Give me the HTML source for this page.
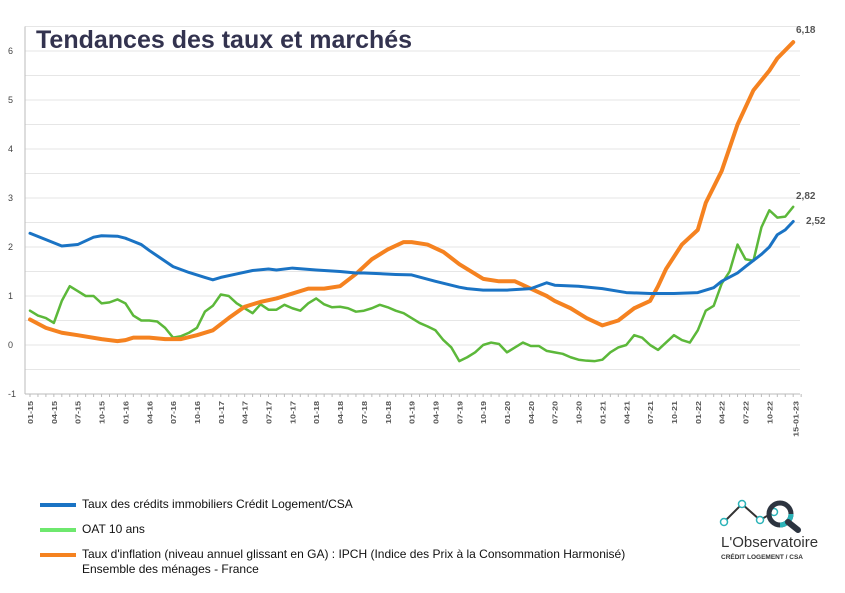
<!DOCTYPE html>
<html><head><meta charset="utf-8"><style>
body{margin:0;background:#fff;font-family:"Liberation Sans",sans-serif}
.leg{position:absolute;left:82px;font-size:12px;color:#111;line-height:15px}
.sw{position:absolute;left:40px;width:36px;height:4px}
</style></head><body>
<div style="position:relative;width:845px;height:593px;overflow:hidden">
<svg id="c" width="845" height="593" style="position:absolute;left:0;top:0"></svg>
<div style="position:absolute;left:36px;top:26px;font-size:25px;font-weight:bold;color:#33334f">Tendances des taux et marchés</div>
<div class="sw" style="top:503px;background:#1a73c4"></div>
<div class="leg" style="top:497px">Taux des crédits immobiliers Crédit Logement/CSA</div>
<div class="sw" style="top:528px;background:#6ee86e"></div>
<div class="leg" style="top:522px">OAT 10 ans</div>
<div class="sw" style="top:553px;background:#f58220"></div>
<div class="leg" style="top:547px">Taux d'inflation (niveau annuel glissant en GA) : IPCH (Indice des Prix à la Consommation Harmonisé)<br>Ensemble des ménages - France</div>
<svg width="100" height="75" style="position:absolute;left:718px;top:490px">
<polyline points="6,32 24,14 42,30 56,22" fill="none" stroke="#333" stroke-width="2"/>
<circle cx="6" cy="32" r="3.5" fill="#fff" stroke="#2bb3b8" stroke-width="1.5"/><circle cx="24" cy="14" r="3.5" fill="#fff" stroke="#2bb3b8" stroke-width="1.5"/><circle cx="42" cy="30" r="3.5" fill="#fff" stroke="#2bb3b8" stroke-width="1.5"/><circle cx="56" cy="22" r="3.5" fill="#fff" stroke="#2bb3b8" stroke-width="1.5"/>
<circle cx="62" cy="24" r="11" fill="none" stroke="#2c3440" stroke-width="5"/><path d="M62 35 A11 11 0 0 0 73 24" fill="none" stroke="#2bb3b8" stroke-width="5"/>
<line x1="70" y1="32" x2="80" y2="40" stroke="#2c3440" stroke-width="6" stroke-linecap="round"/>
<text x="3" y="57" font-size="15" fill="#333" font-family="Liberation Sans">L'Observatoire</text>
<text x="3" y="69" font-size="6.5" font-weight="bold" fill="#333" font-family="Liberation Sans">CRÉDIT LOGEMENT / CSA</text>
</svg>
</div>
<script>
const blueM=[0,2,4,6,8,9,11,12,14,15,18,20,22,23,24,26,28,30,31,33,36,39,41,42,46,48,51,54,55,57,60,63,65,66,69,72,75,78,81,84,86,87,89,90,92,93,94,95,96];
const blueV=[2.28,2.15,2.02,2.05,2.2,2.23,2.22,2.18,2.05,1.93,1.6,1.48,1.38,1.33,1.38,1.45,1.52,1.55,1.53,1.57,1.53,1.5,1.47,1.47,1.44,1.43,1.3,1.18,1.15,1.12,1.12,1.15,1.27,1.22,1.2,1.15,1.07,1.05,1.05,1.07,1.17,1.3,1.47,1.6,1.85,2.0,2.25,2.35,2.52];
const orM=[0,2,4,6,9,11,12,13,15,17,19,21,23,25,27,29,31,33,35,37,39,41,43,45,47,48,50,52,54,57,59,61,63,65,66,68,70,72,74,76,78,79,80,82,84,85,87,89,91,93,94,96];
const orV=[0.52,0.35,0.25,0.2,0.12,0.08,0.1,0.15,0.15,0.12,0.12,0.2,0.3,0.55,0.78,0.88,0.95,1.05,1.15,1.15,1.2,1.45,1.75,1.95,2.1,2.1,2.05,1.9,1.65,1.35,1.3,1.3,1.15,1.0,0.9,0.75,0.55,0.4,0.5,0.75,0.9,1.2,1.55,2.05,2.35,2.9,3.55,4.5,5.2,5.6,5.85,6.18];
const grV=[0.7,0.6,0.55,0.45,0.9,1.2,1.1,1.0,1.0,0.85,0.87,0.93,0.85,0.6,0.5,0.5,0.48,0.35,0.15,0.18,0.25,0.35,0.68,0.8,1.03,1.0,0.85,0.75,0.65,0.83,0.72,0.72,0.82,0.75,0.7,0.85,0.95,0.83,0.77,0.78,0.75,0.68,0.7,0.75,0.82,0.77,0.7,0.65,0.55,0.45,0.38,0.3,0.1,-0.05,-0.33,-0.25,-0.15,0,0.05,0.02,-0.15,-0.05,0.05,-0.02,-0.02,-0.12,-0.15,-0.18,-0.25,-0.3,-0.32,-0.33,-0.3,-0.15,-0.05,0,0.2,0.15,0,-0.1,0.05,0.2,0.1,0.05,0.3,0.7,0.8,1.25,1.5,2.05,1.75,1.72,2.4,2.75,2.6,2.62,2.82];
const yTicks=[6,5,4,3,2,1,0,-1];
const xLabels=[];const yrs=[15,16,17,18,19,20,21,22];
yrs.forEach(y=>["01","04","07","10"].forEach(m=>xLabels.push(m+"-"+y)));xLabels.push("15-01-23");
const ns="http://www.w3.org/2000/svg",svg=document.getElementById("c");
const X=i=>30+i*7.95, Y=v=>345-v*49;
function mk(t,a){const e=document.createElementNS(ns,t);for(const k in a)e.setAttribute(k,a[k]);svg.appendChild(e);return e;}
for(let v=-0.5;v<=6.5;v+=0.5){const g=mk("line",{x1:25,x2:800,y1:Y(v),y2:Y(v),stroke:"#e6e6e6","stroke-width":1});

}
const ax=mk("line",{x1:25,x2:25,y1:Y(6.5),y2:Y(-1),stroke:"#bbb"});


const xa=mk("line",{x1:25,x2:800,y1:Y(-1),y2:Y(-1),stroke:"#bbb"});


for(let i=0;i<=97;i++){mk("line",{x1:X(i),x2:X(i),y1:Y(-1),y2:Y(-1)+3,stroke:"#bbb"});}
yTicks.forEach(v=>{const t=mk("text",{x:8,y:Y(v)+3,"font-size":9,fill:"#444"});t.textContent=v;

});
xLabels.forEach((l,i)=>{const m=i<32?i*3:96.3;const t=mk("text",{x:0,y:0,"font-size":9,"font-weight":"bold",fill:"#555","text-anchor":"end",transform:`translate(${X(m)+3},${Y(-1)+7}) rotate(-90) scale(1,0.8)`});t.textContent=l;

});
function line(ms,vs,col,w,name){const p=mk("polyline",{points:ms.map((m,i)=>X(m)+","+Y(vs[i])).join(" "),fill:"none",stroke:col,"stroke-width":w,"stroke-linejoin":"round","stroke-linecap":"round"});

}
line(grV.map((_,i)=>i),grV,"#5cb83a",2.5,"series-oat-10-ans");
line(orM,orV,"#f58220",4,"series-inflation");
line(blueM,blueV,"#1a73c4",3,"series-credit-logement");
[[6.18,"6,18",796,33],[2.82,"2,82",796,199],[2.52,"2,52",806,224]].forEach(a=>{const t=mk("text",{x:a[2],y:a[3],"font-size":10,"font-weight":"bold",fill:"#555"});t.textContent=a[1];

});
</script>
</body></html>
